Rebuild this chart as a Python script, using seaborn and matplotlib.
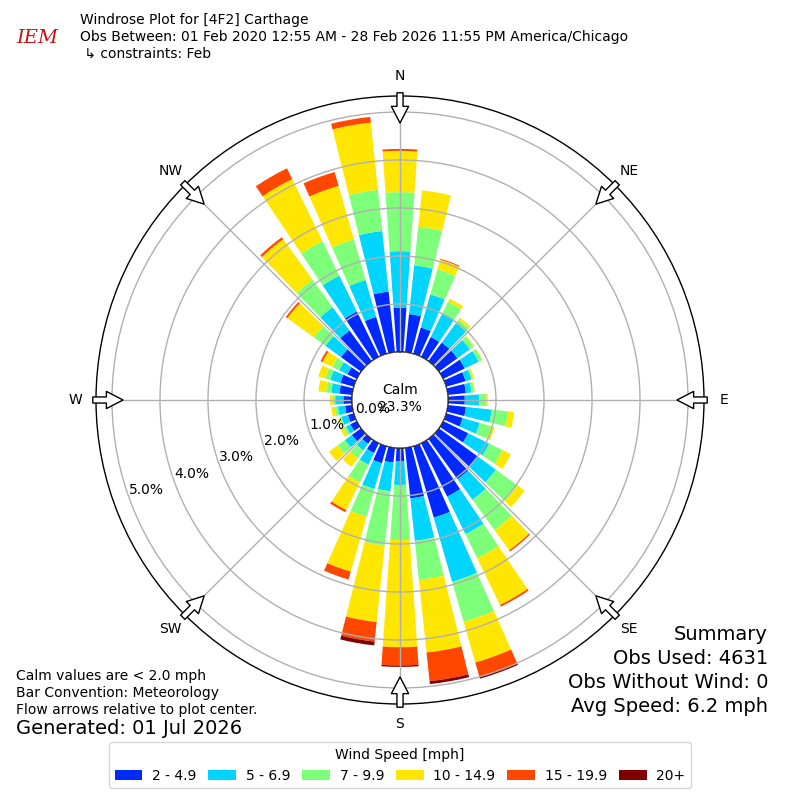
import numpy as np
import matplotlib
matplotlib.use("Agg")
import matplotlib.pyplot as plt
import matplotlib.patches as mpatches
import seaborn as sns

# ---------------- data (percent of observations) ----------------
directions = list(range(0, 360, 10))
speed_labels = ["2 - 4.9", "5 - 6.9", "7 - 9.9", "10 - 14.9", "15 - 19.9", "20+"]

spd_2_5 = [0.92, 0.80, 0.57, 0.46, 0.48, 0.48, 0.50, 0.42, 0.38, 0.35, 0.38, 0.36,
           0.58, 1.00, 1.04, 1.24, 1.55, 1.06, 0.28, 0.31, 0.37, 0.23, 0.13, 0.24,
           0.15, 0.13, 0.15, 0.18, 0.27, 0.29, 0.22, 0.52, 0.79, 1.05, 0.80, 1.27]
spd_5_7 = [1.18, 1.02, 0.72, 0.56, 0.50, 0.32, 0.32, 0.13, 0.12, 0.30, 0.54, 0.37,
           0.49, 0.47, 0.53, 0.87, 1.39, 0.89, 0.49, 0.60, 0.56, 0.27, 0.17, 0.18,
           0.10, 0.14, 0.15, 0.17, 0.17, 0.22, 0.19, 0.40, 0.60, 0.83, 0.80, 1.27]
spd_7_10 = [1.23, 0.81, 0.54, 0.26, 0.09, 0.10, 0.08, 0.03, 0.05, 0.15, 0.34, 0.25,
            0.31, 0.56, 0.78, 0.56, 0.87, 0.82, 1.15, 1.14, 0.60, 0.41, 0.20, 0.19,
            0.06, 0.04, 0.07, 0.05, 0.11, 0.11, 0.16, 0.30, 0.71, 0.80, 0.88, 0.86]
spd_10_15 = [0.86, 0.76, 0.21, 0.07, 0.05, 0.02, 0.01, 0.03, 0.02, 0.03, 0.13, 0.07,
             0.19, 0.18, 0.52, 1.08, 0.88, 1.52, 2.23, 1.60, 1.19, 0.64, 0.22, 0.22,
             0.07, 0.03, 0.07, 0.06, 0.16, 0.15, 0.23, 0.68, 1.04, 1.44, 1.16, 1.41]
spd_15_20 = [0.04, 0.00, 0.02, 0.00, 0.00, 0.00, 0.00, 0.00, 0.00, 0.00, 0.00, 0.00,
             0.00, 0.00, 0.03, 0.04, 0.31, 0.60, 0.38, 0.41, 0.17, 0.05, 0.00, 0.00,
             0.00, 0.00, 0.00, 0.00, 0.00, 0.00, 0.04, 0.04, 0.05, 0.25, 0.30, 0.12]
spd_20p = [0.00, 0.00, 0.00, 0.00, 0.00, 0.00, 0.00, 0.00, 0.00, 0.00, 0.00, 0.00,
           0.00, 0.00, 0.00, 0.00, 0.04, 0.06, 0.03, 0.08, 0.00, 0.00, 0.00, 0.00,
           0.00, 0.00, 0.00, 0.00, 0.00, 0.00, 0.00, 0.00, 0.00, 0.00, 0.00, 0.00]
series = [spd_2_5, spd_5_7, spd_7_10, spd_10_15, spd_15_20, spd_20p]

calm_pct = 23.3
r_ticks = [0, 1, 2, 3, 4, 5]
compass_angles = [0, 45, 90, 135, 180, 225, 270, 315]
compass_labels = ["N", "NE", "E", "SE", "S", "SW", "W", "NW"]

title_lines = ["Windrose Plot for [4F2] Carthage",
               "Obs Between: 01 Feb 2020 12:55 AM - 28 Feb 2026 11:55 PM America/Chicago",
               " \u21b3 constraints: Feb"]
left_notes = ["Calm values are < 2.0 mph", "Bar Convention: Meteorology",
              "Flow arrows relative to plot center."]
generated = "Generated: 01 Jul 2026"
summary_lines = ["Summary", "Obs Used: 4631", "Obs Without Wind: 0", "Avg Speed: 6.2 mph"]

# ---------------- style ----------------
sns.set_style("white")
plt.rcParams["font.family"] = ["DejaVu Sans"]
for k in ["text.color", "axes.labelcolor", "xtick.color", "ytick.color"]:
    plt.rcParams[k] = "black"
jet = matplotlib.colormaps["jet"]
colors = sns.color_palette([jet(v) for v in np.linspace(0, 1, 7)[1:]])

fig = plt.figure(figsize=(8, 8), dpi=100)
ax = fig.add_axes([0.12, 0.12, 0.76, 0.76], projection="polar")
ax.set_theta_zero_location("N")
ax.set_theta_direction(-1)
ax.set_rorigin(-1.0)
ax.set_ylim(0, 5.333)
ax.set_facecolor("white")
ax.set_axisbelow(False)

theta = np.deg2rad(directions)
bottom = np.zeros(len(directions))
for vals, col in zip(series, colors):
    v = np.array(vals)
    ax.bar(theta, v, width=np.deg2rad(8), bottom=bottom, color=col,
           edgecolor="none", linewidth=0, align="center", zorder=1)
    bottom = bottom + v

ax.set_yticks(r_ticks)
ax.set_yticklabels([])
ax.set_xticks(np.deg2rad(compass_angles))
ax.set_xticklabels(compass_labels, fontsize=10, color="black")
ax.tick_params(axis="x", pad=4)
ax.grid(True, color="#b0b0b0", lw=1.0)
ax.spines["polar"].set_color("black")
ax.spines["polar"].set_linewidth(1.0)

# radial labels
for t in r_ticks:
    ax.text(np.deg2rad(250.4), t, f"{t:.1f}%", ha="left", va="bottom",
            fontsize=10, zorder=7, color="black")

# calm hole
hole = mpatches.Circle((0.5, 0.5), 48 / 608, transform=ax.transAxes,
                       facecolor="white", edgecolor="black", lw=1.0, zorder=5)
ax.add_patch(hole)
ax.text(0.5, 0.5025, f"Calm\n{calm_pct:.1f}%", transform=ax.transAxes,
        ha="center", va="center", fontsize=10, zorder=6, linespacing=1.2, color="black")

# flow arrows
for a in compass_angles:
    ax.annotate("", xy=(np.deg2rad(a), 4.77), xytext=(np.deg2rad(a), 5.40),
                arrowprops=dict(arrowstyle="simple,head_length=0.6,head_width=0.62,tail_width=0.22",
                                fc="white", ec="black", lw=1.0, shrinkA=0, shrinkB=0,
                                mutation_scale=20),
                annotation_clip=False, zorder=6)

# header
fig.text(0.1, 0.975, title_lines[0], ha="left", va="center", fontsize=10)
fig.text(0.1, 0.95375, title_lines[1], ha="left", va="center", fontsize=10)
fig.text(0.1, 0.9325, title_lines[2], ha="left", va="center", fontsize=10)
fig.text(0.046, 0.953, "IEM", ha="center", va="center", fontsize=14, color="#cc1111",
         style="italic", family="DejaVu Serif")

# notes
for i, line in enumerate(left_notes):
    fig.text(0.02, 0.155 - i * 0.02125, line, ha="left", va="center", fontsize=10)
fig.text(0.02, 0.08875, generated, ha="left", va="center", fontsize=14)
sy = [0.20625, 0.17625, 0.14625, 0.1175]
for y, line in zip(sy, summary_lines):
    fig.text(0.96, y, line, ha="right", va="center", fontsize=14)

handles = [mpatches.Patch(facecolor=c, edgecolor="none") for c in colors]
fig.legend(handles, speed_labels, loc="center", bbox_to_anchor=(0.5, 0.0435), ncol=6,
           title="Wind Speed [mph]", fontsize=10, title_fontsize=10,
           handletextpad=0.7, columnspacing=0.85, frameon=True)

fig.savefig("out.png", dpi=100)
